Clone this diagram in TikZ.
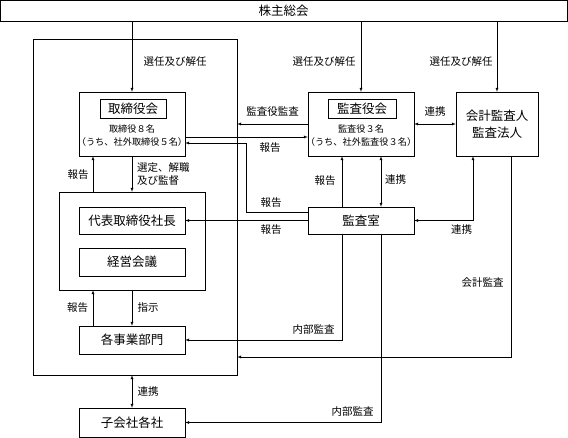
\documentclass[tikz,border=0pt]{standalone}
\usepackage{fontspec}
\setmainfont{Noto Sans CJK JP}
\usetikzlibrary{arrows,positioning}
\newcommand{\boxfont}{\fontsize{12.5}{17}\selectfont}
\newcommand{\lblfont}{\fontsize{10.5}{12.5}\selectfont}
\newcommand{\subfont}{\fontsize{9.2}{13}\selectfont}

\begin{document}
\begin{tikzpicture}[x=1pt, y=-1pt, >=latex,
  box/.style={draw, rectangle, inner sep=0pt, font=\boxfont, align=center},
  frame/.style={draw, rectangle, inner sep=0pt},
  lbl/.style={inner sep=0pt, font=\lblfont}]
\useasboundingbox (0,0) rectangle (568,438);

% governance structure
\node[box, minimum width=567pt, minimum height=21pt] (sokai) at (283.5,10.5) {株主総会};
\node[frame, minimum width=204pt, minimum height=336pt] (group) at (135,207) {};
\node[frame, minimum width=146pt, minimum height=98pt] (exec) at (132,241) {};

\node[box, minimum width=106pt, minimum height=64pt] (tori) at (132,124) {};
\node[box, minimum width=66pt, minimum height=19pt] (torititle) at (133,108.5) {取締役会};
\node[font=\subfont, align=center, inner sep=0pt] (torimem) at (132,135.5) {取締役８名\\（うち、社外取締役５名）};

\node[box, minimum width=106pt, minimum height=64pt] (kansa) at (361,124) {};
\node[box, minimum width=68pt, minimum height=19pt] (kansatitle) at (362,108.5) {監査役会};
\node[font=\subfont, align=center, inner sep=0pt] (kansamem) at (361,135.5) {監査役３名\\（うち、社外監査役３名）};

\node[box, minimum width=82pt, minimum height=64pt] (kaikei) at (497,124) {会計監査人\\監査法人};

\node[box, minimum width=106pt, minimum height=27pt] (shacho) at (132,220.5) {代表取締役社長};
\node[box, minimum width=106pt, minimum height=28pt] (keiei) at (132,262) {経営会議};
\node[box, minimum width=106pt, minimum height=28pt] (jigyo) at (132,340) {各事業部門};
\node[box, minimum width=106pt, minimum height=29pt] (kogaisha) at (132,422.5) {子会社各社};
\node[box, minimum width=106pt, minimum height=27pt] (shitsu) at (361,220.5) {監査室};

% appointment
\draw[->] (sokai.south -| tori.north) -- (tori.north);
\draw[->] (sokai.south -| kansa.north) -- (kansa.north);
\draw[->] (sokai.south -| kaikei.north) -- (kaikei.north);
\node[lbl] (l1) at (175,62) {選任及び解任};
\node[lbl] (l2) at (324,62) {選任及び解任};
\node[lbl] (l3) at (461,62) {選任及び解任};

% inside the company
\draw[->] ([xshift=-39pt]exec.north) -- ([xshift=-39pt]tori.south);
\node[lbl] (l4) at (78,175) {報告};
\draw[->] (tori.south) -- (exec.north);
\node[lbl, anchor=west, align=left] (l5) at (137,174) {選定、解職\\及び監督};
\draw[->] ([xshift=-39pt]jigyo.north) -- ([xshift=-39pt]exec.south);
\node[lbl] (l6) at (77.5,308) {報告};
\draw[->] (exec.south) -- (jigyo.north);
\node[lbl] (l7) at (148,308) {指示};
\draw[<->] (group.south -| kogaisha.north) -- (kogaisha.north);
\node[lbl] (l8) at (148,392) {連携};

% audit lines
\draw[->] (kansa.west) -- (kansa.west -| group.east);
\node[lbl] (l9) at (272.5,112) {監査役監査};
\draw[->] ([yshift=-13pt]tori.east) -- ([yshift=-13pt]kansa.west);
\node[lbl] (l10) at (270,148) {報告};
\draw[<->] (kansa.east) -- (kaikei.west);
\node[lbl] (l11) at (435,112) {連携};
\draw[->] ([yshift=8.5pt]shitsu.west) -| ([xshift=61pt,yshift=-19pt]tori.east) -- ([yshift=-19pt]tori.east);
\node[lbl] (l12) at (271,203) {報告};
\draw[->] (shitsu.west) -- (shacho.east);
\node[lbl] (l13) at (271,230) {報告};
\draw[->] ([xshift=-19pt]shitsu.north) -- ([xshift=-19pt]kansa.south);
\node[lbl] (l14) at (325,181) {報告};
\draw[<->] ([xshift=20pt]kansa.south) -- ([xshift=20pt]shitsu.north);
\node[lbl] (l15) at (395.5,180) {連携};
\draw[<->] ([xshift=-24pt]kaikei.south) |- (shitsu.east);
\node[lbl] (l16) at (461.5,230) {連携};
\draw[->] ([xshift=14pt]kaikei.south) |- ([yshift=-150pt]group.east);
\node[lbl] (l17) at (482.5,283) {会計監査};
\draw[->] ([xshift=-19pt]shitsu.south) |- (jigyo.east);
\node[lbl] (l18) at (313.5,330) {内部監査};
\draw[->] ([xshift=20pt]shitsu.south) |- (kogaisha.east);
\node[lbl] (l19) at (352.5,412) {内部監査};
\end{tikzpicture}
\end{document}
